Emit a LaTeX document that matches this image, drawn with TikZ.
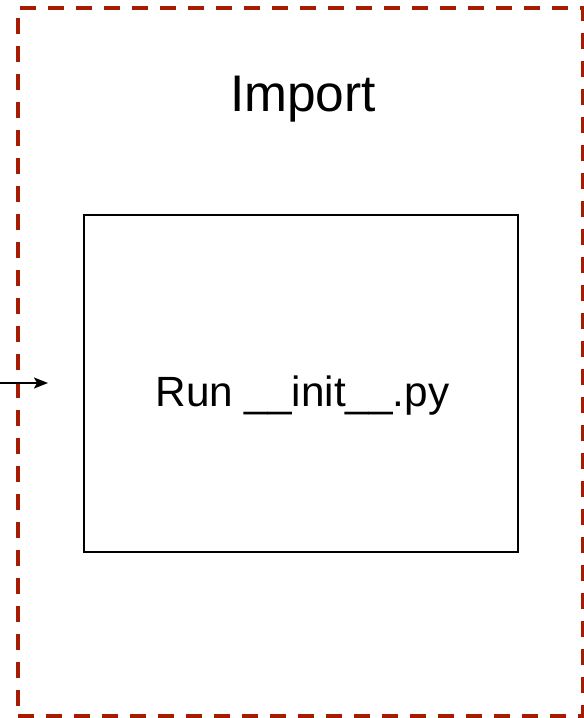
\documentclass[tikz,border=0pt]{standalone}
\usepackage{fontspec}
\setmainfont{Liberation Sans}
\usetikzlibrary{arrows.meta}

\definecolor{frameRed}{RGB}{166,28,0}

\begin{document}
\begin{tikzpicture}[x=1pt,y=-1pt,line cap=butt,line join=miter,
  framebox/.style={draw=frameRed,line width=4pt,dash pattern=on 16pt off 12pt},
  stepbox/.style={draw=black,line width=2pt}]
  \useasboundingbox (0,0) rectangle (584,718);
  % gestrichelter Rahmen
  \node[framebox,minimum width=565pt,minimum height=708pt,inner sep=0pt] (frame) at (300.5,362) {};
  \node[anchor=base] (title) at (303,111) {\fontsize{51.5}{62}\selectfont Import};
  % innerer Kasten
  \node[stepbox,minimum width=434pt,minimum height=337pt,inner sep=0pt] (initbox) at (301,383.5) {};
  \node[anchor=base] (runlabel) at (302.5,406) {\fontsize{42.3}{51}\selectfont Run \_\_init\_\_.py};
  % Pfeil von links
  \coordinate (entry) at (0,383);
  \coordinate (tip) at (48,383);
  \draw[line width=2pt,-{Stealth[length=14pt,width=11pt,inset=3pt]}] (entry) -- (tip);
\end{tikzpicture}
\end{document}
